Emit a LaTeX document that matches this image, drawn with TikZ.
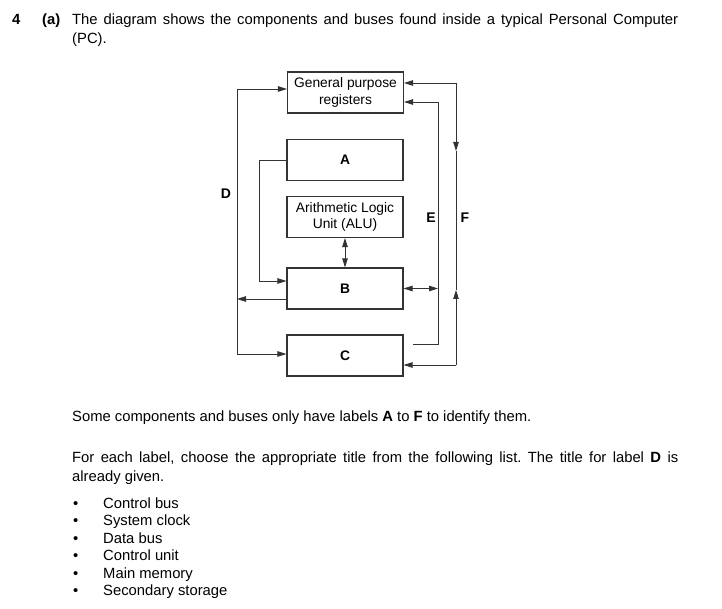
\documentclass[tikz,border=0pt]{standalone}
\usepackage{fontspec}
\setmainfont{Liberation Sans}
\usetikzlibrary{arrows.meta}
\frenchspacing
\tikzset{
  box/.style={draw=black!80, line width=1.1pt, minimum width=116pt, minimum height=41pt, inner sep=0pt, align=center, font=\fontsize{13.8}{16.5}\selectfont},
  con/.style={draw=black!80, line width=0.9pt},
  arr/.style={con, -{Triangle[length=9pt,width=5.5pt]}},
  arrb/.style={con, {Triangle[length=9pt,width=5.5pt]}-{Triangle[length=9pt,width=5.5pt]}},
  lbl/.style={font=\fontsize{14}{16}\selectfont\bfseries, inner sep=0pt},
  txt/.style={anchor=base west, inner sep=0pt, font=\fontsize{14.8}{17}\selectfont},
}
\begin{document}
\begin{tikzpicture}[x=1pt,y=-1pt]
\useasboundingbox (0,0) rectangle (722,609);
% header
\node[txt, font=\fontsize{14.8}{17}\selectfont\bfseries] (q4) at (12,25) {4};
\node[txt, font=\fontsize{14.8}{17}\selectfont\bfseries] (qa) at (42,25) {(a)};
\node[txt] (t1) at (72,25) {\makebox[606pt][s]{The diagram shows the components and buses found inside a typical Personal Computer}};
\node[txt] (t2) at (72,44) {(PC).};
% boxes
\node[box] (gpr) at (345.5,92.5) {General purpose\\registers};
\node[box] (a) at (345,160) {\textbf{A}};
\node[box] (alu) at (345,217) {Arithmetic Logic\\Unit (ALU)};
\node[box] (b) at (345,288.5) {\textbf{B}};
\node[box] (c) at (345,355.5) {\textbf{C}};
% D bus
\coordinate (dtop) at (237,89);
\coordinate (dmid) at (237,299);
\coordinate (dbot) at (237,354);
\draw[con] (dtop) -- (dbot);
\draw[arr] (dtop) -- (dtop -| gpr.west);
\draw[arr] (dbot) -- (dbot -| c.west);
\draw[arr] (dmid -| b.west) -- (dmid);
% A to B
\coordinate (aL) at (259,160);
\coordinate (aB) at (259,281);
\draw[arr] (a.west) -- (aL) -- (aB) -- (aB -| b.west);
% ALU - B
\draw[arrb] (alu.south) -- (b.north);
% E bus
\coordinate (etop) at (438,102);
\coordinate (ebot) at (438,344);
\coordinate (eend) at (413,344);
\draw[arr] (etop) -- (etop -| gpr.east);
\draw[con] (etop) -- (ebot) -- (eend);
\draw[arrb] (b.east) -- (b.east -| etop);
% F bus
\coordinate (ftop) at (456,83);
\coordinate (fa) at (456,151);
\coordinate (fb) at (456,290);
\coordinate (fbot) at (456,365);
\draw[arr] (ftop) -- (ftop -| gpr.east);
\draw[arr] (fbot) -- (fbot -| c.east);
\draw[arr] (ftop) -- (fa);
\draw[con] (fa) -- (fb);
\draw[arr] (fbot) -- (fb);
% labels
\node[lbl] (ld) at (226,194) {D};
\node[lbl] (le) at (431,218) {E};
\node[lbl] (lf) at (465,218) {F};
% text below
\node[txt] (s1) at (72,421) {Some components and buses only have labels \textbf{A} to \textbf{F} to identify them.};
\node[txt] (s2) at (72,462) {\makebox[606pt][s]{For each label, choose the appropriate title from the following list. The title for label \textbf{D} is}};
\node[txt] (s3) at (72,481) {already given.};
\foreach \t [count=\i] in {Control bus, System clock, Data bus, Control unit, Main memory, Secondary storage}{
  \node[txt] (b\i) at (73,{491+17.4*\i}) {\textbullet};
  \node[txt] (i\i) at (103,{491+17.4*\i}) {\t};
}
\end{tikzpicture}
\end{document}
